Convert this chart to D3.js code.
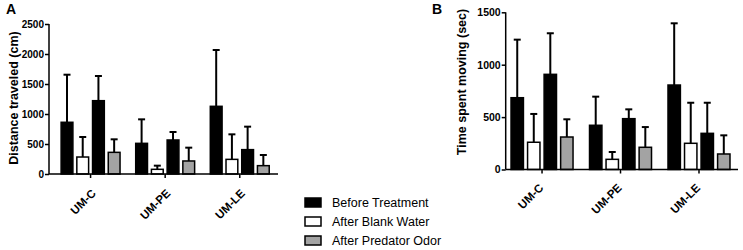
<!DOCTYPE html>
<html>
<head>
    <meta charset="utf-8">
    <style>
        body { margin: 0; background: #fff; }
        text { font-family: "Liberation Sans", Arial, sans-serif; }
    </style>
</head>
<body>
    <svg width="743" height="250"></svg>
    <script src="https://d3js.org/d3.v7.min.js"></script>
    <script>
        // groups and the four bars drawn in each group
        let groups = ["UM-C", "UM-PE", "UM-LE"];
        let barKinds = ["before", "blank", "before2", "predator"];
        let barFill = {before: "#000", blank: "#fff", before2: "#000", predator: "#a3a3a3"};

        // panel A: distance traveled (cm), mean and SD
        let distMean = [[862, 283, 1222, 361], [511, 78, 567, 217], [1128, 244, 406, 139]];
        let distSD = [[793, 334, 411, 217], [400, 61, 133, 222], [939, 417, 383, 178]];
        let distTicks = [0, 500, 1000, 1500, 2000, 2500];

        // panel B: time spent moving (sec), mean and SD
        let timeMean = [[685, 260, 908, 310], [422, 97, 485, 212], [806, 250, 345, 148]];
        let timeSD = [[554, 270, 392, 169], [273, 70, 89, 193], [589, 387, 292, 178]];
        let timeTicks = [0, 500, 1000, 1500];

        let legendLabels = ["Before Treatment", "After Blank Water", "After Predator Odor"];
        let legendFill = ["#000", "#fff", "#a3a3a3"];

        let svg = d3.select("svg");

        function drawPanel(p) {
            let g = svg.append("g");
            let y = d3.scaleLinear().domain([0, p.max]).range([p.bottom, p.top]);
            let x0 = d3.scaleBand().domain(groups)
                .range([p.left, p.right])
                .paddingInner(0.21).paddingOuter(p.outer).align(p.align);
            let x1 = d3.scaleBand().domain(d3.range(4))
                .range([0, x0.bandwidth()]).paddingInner(0.25);

            let rows = [];
            groups.forEach(function(grp, gi) {
                barKinds.forEach(function(k, bi) {
                    rows.push({group: grp, i: bi, kind: k, mean: p.mean[gi][bi], sd: p.sd[gi][bi]});
                });
            });

            let cx = d => x0(d.group) + x1(d.i) + x1.bandwidth() / 2;
            let bars = g.selectAll(".bar").data(rows).enter().append("g");
            // error bars (upper only)
            bars.append("line")
                .attr("x1", cx).attr("x2", cx)
                .attr("y1", d => y(d.mean))
                .attr("y2", d => y(d.mean + d.sd))
                .attr("stroke", "#000").attr("stroke-width", 2);
            bars.append("line")
                .attr("x1", d => cx(d) - 3.5)
                .attr("x2", d => cx(d) + 3.5)
                .attr("y1", d => y(d.mean + d.sd))
                .attr("y2", d => y(d.mean + d.sd))
                .attr("stroke", "#000").attr("stroke-width", 2);
            bars.append("rect")
                .attr("x", d => x0(d.group) + x1(d.i))
                .attr("width", x1.bandwidth())
                .attr("y", d => y(d.mean))
                .attr("height", d => y(0) - y(d.mean))
                .attr("fill", d => barFill[d.kind])
                .attr("stroke", "#000").attr("stroke-width", 1.5);

            // y axis
            let yAxis = g.append("g")
                .attr("transform", "translate(" + p.left + ",0)")
                .call(d3.axisLeft(y).tickValues(p.ticks).tickFormat(d3.format("d")).tickSize(4).tickPadding(1));
            yAxis.selectAll("path, line").attr("stroke", "#000").attr("stroke-width", 1.5);
            yAxis.select(".domain").attr("d", "M0," + p.top + "V" + p.bottom);
            yAxis.selectAll("text").style("font-size", p.tickFont + "px").attr("font-weight", "bold")
                .attr("fill", "#000");

            // x axis
            let xAxis = g.append("g")
                .attr("transform", "translate(0," + p.bottom + ")")
                .call(d3.axisBottom(x0).tickSize(4).tickSizeOuter(0));
            xAxis.selectAll("path, line").attr("stroke", "#000").attr("stroke-width", 1.5);
            xAxis.select(".domain").attr("d", "M" + p.left + ",0H" + p.right);
            xAxis.selectAll("text")
                .style("font-size", "11.5px").attr("font-weight", "bold")
                .attr("fill", "#000")
                .attr("text-anchor", "end")
                .attr("y", 0).attr("dy", 0)
                .attr("transform", "translate(" + p.labDx + "," + p.labDy + ") rotate(-45)");

            // axis title
            g.append("text")
                .attr("transform", "translate(" + p.titleX + "," + p.titleY + ") rotate(-90)")
                .attr("text-anchor", "middle")
                .attr("font-size", 12.5).attr("font-weight", "bold")
                .text(p.title);

            // panel letter
            g.append("text")
                .attr("x", p.letterX).attr("y", 14)
                .attr("font-size", 14).attr("font-weight", "bold")
                .text(p.letter);
        }

        drawPanel({
            letter: "A", letterX: 6,
            title: "Distance traveled (cm)", titleX: 17.5, titleY: 98,
            mean: distMean, sd: distSD, ticks: distTicks, max: 2500,
            left: 49, right: 278, top: 24, bottom: 174,
            outer: 0.14, align: 0.58, tickFont: 10,
            labDx: 6, labDy: 20
        });

        drawPanel({
            letter: "B", letterX: 432,
            title: "Time spent moving (sec)", titleX: 466, titleY: 82,
            mean: timeMean, sd: timeSD, ticks: timeTicks, max: 1500,
            left: 505.7, right: 738, top: 12.3, bottom: 169.5,
            outer: 0.085, align: 0.4, tickFont: 10.5,
            labDx: 2, labDy: 19
        });

        // legend
        let legend = svg.append("g").attr("transform", "translate(305,198)");
        let item = legend.selectAll("g").data(legendLabels).enter().append("g")
            .attr("transform", (d, i) => "translate(0," + i * 19 + ")");
        item.append("rect")
            .attr("width", 16).attr("height", 9)
            .attr("fill", (d, i) => legendFill[i])
            .attr("stroke", "#000").attr("stroke-width", 1.5);
        item.append("text")
            .attr("x", 27).attr("y", 9)
            .attr("font-size", 12.5)
            .text(d => d);
    </script>
</body>
</html>
